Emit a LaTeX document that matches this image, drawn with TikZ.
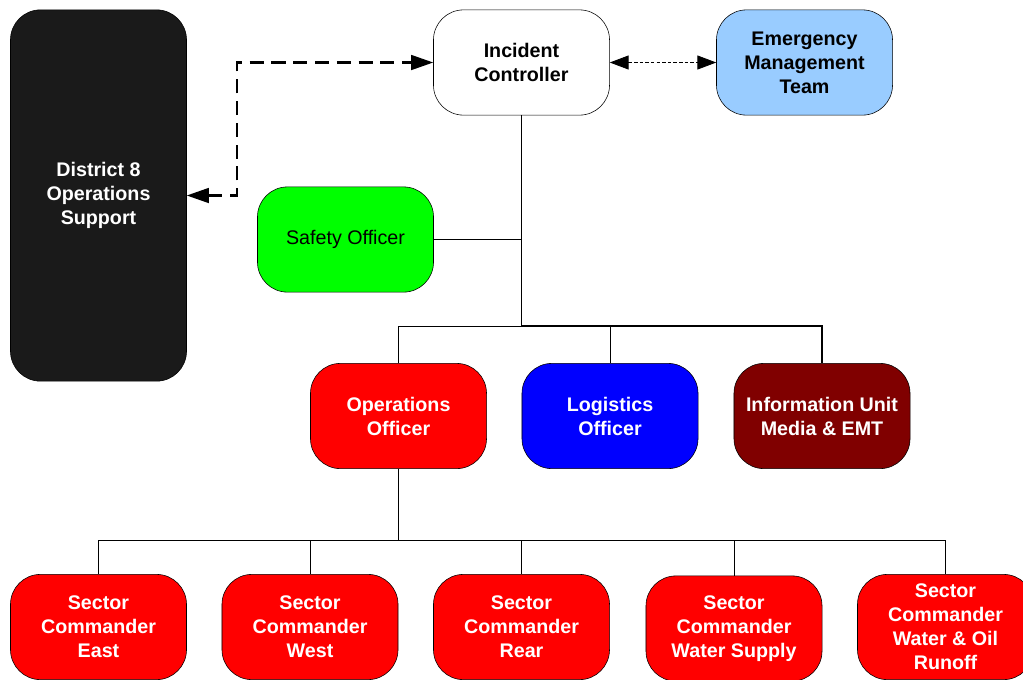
\documentclass[tikz,border=0pt]{standalone}
\usepackage{fontspec}
\setmainfont{Liberation Sans}
\usetikzlibrary{arrows.meta}

\definecolor{distblack}{HTML}{1A1A1A}
\definecolor{emtblue}{HTML}{99CCFF}
\definecolor{safegreen}{HTML}{00FF00}
\definecolor{infored}{HTML}{800000}

\begin{document}
\begin{tikzpicture}[x=0.025cm,y=-0.025cm,
  unit/.style={draw,rounded corners=0.75cm,minimum width=4.4cm,minimum height=2.63cm,
    align=center,text=white,font=\fontsize{14}{17}\selectfont\bfseries},
  link/.style={line width=0.6pt},
  trunk/.style={line width=1.1pt},
  dashlink/.style={line width=1.5pt,dash pattern=on 10pt off 5.5pt,
    {Triangle[length=0.55cm,width=0.37cm]}-{Triangle[length=0.55cm,width=0.37cm]}},
  dotlink/.style={line width=0.6pt,dash pattern=on 2.5pt off 1.5pt,
    {Triangle[length=0.47cm,width=0.35cm]}-{Triangle[length=0.47cm,width=0.35cm]}}]
  \useasboundingbox (0,0) rectangle (1023,679);

  % command level
  \node[unit,fill=distblack,minimum height=9.28cm] (district) at (98.5,195.5) {District 8\\Operations\\Support};
  \node[unit,fill=white,text=black] (controller) at (521.5,62.5) {Incident\\Controller};
  \node[unit,fill=emtblue,text=black] (emt) at (804.5,62.5) {Emergency\\Management\\Team};
  \node[unit,fill=safegreen,text=black,font=\fontsize{14}{17}\selectfont] (safety) at (345.5,239.5) {Safety Officer};

  % officers
  \node[unit,fill=red] (ops) at (398.5,416) {Operations\\Officer};
  \node[unit,fill=blue] (logistics) at (610,416) {Logistics\\Officer};
  \node[unit,fill=infored] (info) at (822,416) {Information Unit\\Media \& EMT};

  % sectors
  \node[unit,fill=red] (east) at (98.5,627) {Sector\\Commander\\East};
  \node[unit,fill=red] (west) at (310,627) {Sector\\Commander\\West};
  \node[unit,fill=red] (rear) at (521.5,627) {Sector\\Commander\\Rear};
  \node[unit,fill=red] (water) at (734,628.5) {Sector\\Commander\\Water Supply};
  \node[unit,fill=red] (runoff) at (945.5,627) {Sector\\Commander\\Water \& Oil\\Runoff};

  \coordinate (hub) at (521.5,326);
  \coordinate (opsbar) at (398.5,540);

  \draw[trunk] (controller) -- (hub) -| (info);
  \draw[link] (safety.east) -- (safety.east -| controller);
  \draw[link] (hub) -| (ops);
  \draw[link] (hub -| logistics) -- (logistics);
  \draw[link] (ops) -- (opsbar);
  \foreach \s in {east,west,rear,water,runoff}
    \draw[link] (opsbar) -| (\s);

  \draw[dashlink] (district.east) -- ++(50,0) |- (controller.west);
  \draw[dotlink] (controller) -- (emt);
\end{tikzpicture}
\end{document}
